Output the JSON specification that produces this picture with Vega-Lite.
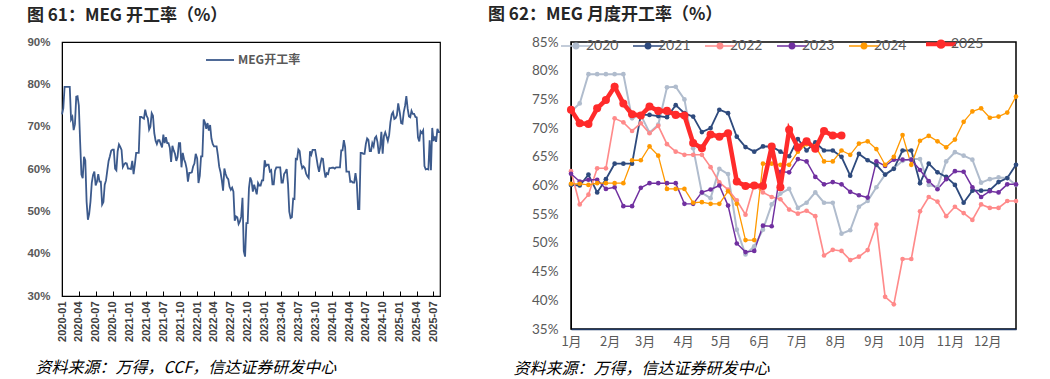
{
  "$schema": "https://vega.github.io/schema/vega-lite/v6.json",
  "background": "white",
  "padding": {"left": 26, "top": 5, "right": 5, "bottom": 0},
  "config": {"font": "Liberation Sans", "view": {"stroke": "#000"}},
  "data": {"values": [
    {"yr":"2020","w":0,"d":"2020-01-01","v":72.9},{"yr":"2020","w":1,"d":"2020-01-08","v":74.3},{"yr":"2020","w":2,"d":"2020-01-15","v":79.4},{"yr":"2020","w":3,"d":"2020-01-22","v":79.4},{"yr":"2020","w":4,"d":"2020-01-29","v":79.4},{"yr":"2020","w":5,"d":"2020-02-05","v":79.4},{"yr":"2020","w":6,"d":"2020-02-12","v":79.4},{"yr":"2020","w":7,"d":"2020-02-19","v":71.7},{"yr":"2020","w":8,"d":"2020-02-26","v":72.3},{"yr":"2020","w":9,"d":"2020-03-04","v":69.2},{"yr":"2020","w":10,"d":"2020-03-11","v":70.6},{"yr":"2020","w":11,"d":"2020-03-18","v":77.1},{"yr":"2020","w":12,"d":"2020-03-25","v":77.2},{"yr":"2020","w":13,"d":"2020-04-01","v":75.0},{"yr":"2020","w":14,"d":"2020-04-08","v":66.5},{"yr":"2020","w":15,"d":"2020-04-15","v":58.7},{"yr":"2020","w":16,"d":"2020-04-22","v":57.8},{"yr":"2020","w":17,"d":"2020-04-29","v":62.9},{"yr":"2020","w":18,"d":"2020-05-06","v":62.0},{"yr":"2020","w":19,"d":"2020-05-13","v":52.3},{"yr":"2020","w":20,"d":"2020-05-20","v":48.0},{"yr":"2020","w":21,"d":"2020-05-27","v":49.4},{"yr":"2020","w":22,"d":"2020-06-03","v":52.3},{"yr":"2020","w":23,"d":"2020-06-10","v":56.7},{"yr":"2020","w":24,"d":"2020-06-17","v":58.6},{"yr":"2020","w":25,"d":"2020-06-24","v":59.4},{"yr":"2020","w":26,"d":"2020-07-01","v":56.1},{"yr":"2020","w":27,"d":"2020-07-08","v":57.0},{"yr":"2020","w":28,"d":"2020-07-15","v":58.8},{"yr":"2020","w":29,"d":"2020-07-22","v":57.0},{"yr":"2020","w":30,"d":"2020-07-29","v":57.0},{"yr":"2020","w":31,"d":"2020-08-05","v":51.6},{"yr":"2020","w":32,"d":"2020-08-12","v":52.2},{"yr":"2020","w":33,"d":"2020-08-19","v":56.3},{"yr":"2020","w":34,"d":"2020-08-26","v":57.3},{"yr":"2020","w":35,"d":"2020-09-02","v":59.7},{"yr":"2020","w":36,"d":"2020-09-09","v":61.9},{"yr":"2020","w":37,"d":"2020-09-16","v":63.0},{"yr":"2020","w":38,"d":"2020-09-23","v":64.3},{"yr":"2020","w":39,"d":"2020-09-30","v":64.6},{"yr":"2020","w":40,"d":"2020-10-07","v":64.6},{"yr":"2020","w":41,"d":"2020-10-14","v":60.1},{"yr":"2020","w":42,"d":"2020-10-21","v":59.7},{"yr":"2020","w":43,"d":"2020-10-28","v":64.2},{"yr":"2020","w":44,"d":"2020-11-04","v":65.8},{"yr":"2020","w":45,"d":"2020-11-11","v":65.2},{"yr":"2020","w":46,"d":"2020-11-18","v":64.5},{"yr":"2020","w":47,"d":"2020-11-25","v":60.5},{"yr":"2020","w":48,"d":"2020-12-02","v":61.1},{"yr":"2020","w":49,"d":"2020-12-09","v":61.4},{"yr":"2020","w":50,"d":"2020-12-16","v":61.3},{"yr":"2020","w":51,"d":"2020-12-23","v":60.1},
    {"yr":"2021","w":0,"d":"2021-01-01","v":60.1},{"yr":"2021","w":1,"d":"2021-01-08","v":60.0},{"yr":"2021","w":2,"d":"2021-01-15","v":61.9},{"yr":"2021","w":3,"d":"2021-01-22","v":58.8},{"yr":"2021","w":4,"d":"2021-01-29","v":61.1},{"yr":"2021","w":5,"d":"2021-02-05","v":63.8},{"yr":"2021","w":6,"d":"2021-02-12","v":63.8},{"yr":"2021","w":7,"d":"2021-02-19","v":63.8},{"yr":"2021","w":8,"d":"2021-02-26","v":72.3},{"yr":"2021","w":9,"d":"2021-03-05","v":72.3},{"yr":"2021","w":10,"d":"2021-03-12","v":72.1},{"yr":"2021","w":11,"d":"2021-03-19","v":71.9},{"yr":"2021","w":12,"d":"2021-03-26","v":74.0},{"yr":"2021","w":13,"d":"2021-04-02","v":72.6},{"yr":"2021","w":14,"d":"2021-04-09","v":72.0},{"yr":"2021","w":15,"d":"2021-04-16","v":69.3},{"yr":"2021","w":16,"d":"2021-04-23","v":70.0},{"yr":"2021","w":17,"d":"2021-04-30","v":73.2},{"yr":"2021","w":18,"d":"2021-05-07","v":72.6},{"yr":"2021","w":19,"d":"2021-05-14","v":68.5},{"yr":"2021","w":20,"d":"2021-05-21","v":66.7},{"yr":"2021","w":21,"d":"2021-05-28","v":65.9},{"yr":"2021","w":22,"d":"2021-06-04","v":66.8},{"yr":"2021","w":23,"d":"2021-06-11","v":66.8},{"yr":"2021","w":24,"d":"2021-06-18","v":65.9},{"yr":"2021","w":25,"d":"2021-06-25","v":65.1},{"yr":"2021","w":26,"d":"2021-07-02","v":68.1},{"yr":"2021","w":27,"d":"2021-07-09","v":66.1},{"yr":"2021","w":28,"d":"2021-07-16","v":67.5},{"yr":"2021","w":29,"d":"2021-07-23","v":66.1},{"yr":"2021","w":30,"d":"2021-07-30","v":66.1},{"yr":"2021","w":31,"d":"2021-08-06","v":65.0},{"yr":"2021","w":32,"d":"2021-08-13","v":61.7},{"yr":"2021","w":33,"d":"2021-08-20","v":65.5},{"yr":"2021","w":34,"d":"2021-08-27","v":64.4},{"yr":"2021","w":35,"d":"2021-09-03","v":63.6},{"yr":"2021","w":36,"d":"2021-09-10","v":61.9},{"yr":"2021","w":37,"d":"2021-09-17","v":62.9},{"yr":"2021","w":38,"d":"2021-09-24","v":66.1},{"yr":"2021","w":39,"d":"2021-10-01","v":66.1},{"yr":"2021","w":40,"d":"2021-10-08","v":60.4},{"yr":"2021","w":41,"d":"2021-10-15","v":63.8},{"yr":"2021","w":42,"d":"2021-10-22","v":62.3},{"yr":"2021","w":43,"d":"2021-10-29","v":61.5},{"yr":"2021","w":44,"d":"2021-11-05","v":60.1},{"yr":"2021","w":45,"d":"2021-11-12","v":57.0},{"yr":"2021","w":46,"d":"2021-11-19","v":59.1},{"yr":"2021","w":47,"d":"2021-11-26","v":59.1},{"yr":"2021","w":48,"d":"2021-12-03","v":59.2},{"yr":"2021","w":49,"d":"2021-12-10","v":60.6},{"yr":"2021","w":50,"d":"2021-12-17","v":61.3},{"yr":"2021","w":51,"d":"2021-12-24","v":63.6},
    {"yr":"2022","w":0,"d":"2022-01-01","v":62.5},{"yr":"2022","w":1,"d":"2022-01-08","v":56.7},{"yr":"2022","w":2,"d":"2022-01-15","v":58.4},{"yr":"2022","w":3,"d":"2022-01-22","v":63.0},{"yr":"2022","w":4,"d":"2022-01-29","v":63.0},{"yr":"2022","w":5,"d":"2022-02-05","v":71.7},{"yr":"2022","w":6,"d":"2022-02-12","v":71.0},{"yr":"2022","w":7,"d":"2022-02-19","v":69.5},{"yr":"2022","w":8,"d":"2022-02-26","v":70.85},{"yr":"2022","w":9,"d":"2022-03-05","v":69.1},{"yr":"2022","w":10,"d":"2022-03-12","v":70.4},{"yr":"2022","w":11,"d":"2022-03-19","v":67.2},{"yr":"2022","w":12,"d":"2022-03-26","v":65.9},{"yr":"2022","w":13,"d":"2022-04-02","v":65.35},{"yr":"2022","w":14,"d":"2022-04-09","v":65.35},{"yr":"2022","w":15,"d":"2022-04-16","v":65.35},{"yr":"2022","w":16,"d":"2022-04-23","v":63.2},{"yr":"2022","w":17,"d":"2022-04-30","v":60.55},{"yr":"2022","w":18,"d":"2022-05-07","v":59.3},{"yr":"2022","w":19,"d":"2022-05-14","v":57.4},{"yr":"2022","w":20,"d":"2022-05-21","v":54.9},{"yr":"2022","w":21,"d":"2022-05-28","v":60.1},{"yr":"2022","w":22,"d":"2022-06-04","v":58.8},{"yr":"2022","w":23,"d":"2022-06-11","v":58.0},{"yr":"2022","w":24,"d":"2022-06-18","v":57.6},{"yr":"2022","w":25,"d":"2022-06-25","v":55.8},{"yr":"2022","w":26,"d":"2022-07-02","v":55.1},{"yr":"2022","w":27,"d":"2022-07-09","v":55.6},{"yr":"2022","w":28,"d":"2022-07-16","v":54.65},{"yr":"2022","w":29,"d":"2022-07-23","v":47.8},{"yr":"2022","w":30,"d":"2022-07-30","v":48.8},{"yr":"2022","w":31,"d":"2022-08-06","v":48.6},{"yr":"2022","w":32,"d":"2022-08-13","v":47.0},{"yr":"2022","w":33,"d":"2022-08-20","v":47.6},{"yr":"2022","w":34,"d":"2022-08-27","v":48.75},{"yr":"2022","w":35,"d":"2022-09-03","v":53.2},{"yr":"2022","w":36,"d":"2022-09-10","v":40.6},{"yr":"2022","w":37,"d":"2022-09-17","v":39.3},{"yr":"2022","w":38,"d":"2022-09-24","v":47.2},{"yr":"2022","w":39,"d":"2022-10-01","v":47.2},{"yr":"2022","w":40,"d":"2022-10-08","v":55.5},{"yr":"2022","w":41,"d":"2022-10-15","v":58.0},{"yr":"2022","w":42,"d":"2022-10-22","v":57.2},{"yr":"2022","w":43,"d":"2022-10-29","v":54.65},{"yr":"2022","w":44,"d":"2022-11-05","v":56.3},{"yr":"2022","w":45,"d":"2022-11-12","v":55.2},{"yr":"2022","w":46,"d":"2022-11-19","v":54.0},{"yr":"2022","w":47,"d":"2022-11-26","v":56.7},{"yr":"2022","w":48,"d":"2022-12-03","v":56.1},{"yr":"2022","w":49,"d":"2022-12-10","v":56.1},{"yr":"2022","w":50,"d":"2022-12-17","v":57.3},{"yr":"2022","w":51,"d":"2022-12-24","v":57.3},
    {"yr":"2023","w":0,"d":"2023-01-01","v":62.05},{"yr":"2023","w":1,"d":"2023-01-08","v":60.7},{"yr":"2023","w":2,"d":"2023-01-15","v":61.0},{"yr":"2023","w":3,"d":"2023-01-22","v":61.0},{"yr":"2023","w":4,"d":"2023-01-29","v":59.4},{"yr":"2023","w":5,"d":"2023-02-05","v":59.7},{"yr":"2023","w":6,"d":"2023-02-12","v":56.4},{"yr":"2023","w":7,"d":"2023-02-19","v":56.4},{"yr":"2023","w":8,"d":"2023-02-26","v":59.6},{"yr":"2023","w":9,"d":"2023-03-05","v":60.4},{"yr":"2023","w":10,"d":"2023-03-12","v":60.4},{"yr":"2023","w":11,"d":"2023-03-19","v":60.4},{"yr":"2023","w":12,"d":"2023-03-26","v":60.4},{"yr":"2023","w":13,"d":"2023-04-02","v":56.8},{"yr":"2023","w":14,"d":"2023-04-09","v":56.8},{"yr":"2023","w":15,"d":"2023-04-16","v":58.8},{"yr":"2023","w":16,"d":"2023-04-23","v":59.3},{"yr":"2023","w":17,"d":"2023-04-30","v":60.0},{"yr":"2023","w":18,"d":"2023-05-07","v":56.5},{"yr":"2023","w":19,"d":"2023-05-14","v":49.9},{"yr":"2023","w":20,"d":"2023-05-21","v":48.4},{"yr":"2023","w":21,"d":"2023-05-28","v":48.6},{"yr":"2023","w":22,"d":"2023-06-04","v":53.0},{"yr":"2023","w":23,"d":"2023-06-11","v":52.9},{"yr":"2023","w":24,"d":"2023-06-18","v":62.4},{"yr":"2023","w":25,"d":"2023-06-25","v":62.3},{"yr":"2023","w":26,"d":"2023-07-02","v":64.6},{"yr":"2023","w":27,"d":"2023-07-09","v":64.2},{"yr":"2023","w":28,"d":"2023-07-16","v":61.5},{"yr":"2023","w":29,"d":"2023-07-23","v":60.2},{"yr":"2023","w":30,"d":"2023-07-30","v":60.6},{"yr":"2023","w":31,"d":"2023-08-06","v":60.2},{"yr":"2023","w":32,"d":"2023-08-13","v":58.9},{"yr":"2023","w":33,"d":"2023-08-20","v":58.3},{"yr":"2023","w":34,"d":"2023-08-27","v":57.9},{"yr":"2023","w":35,"d":"2023-09-03","v":64.2},{"yr":"2023","w":36,"d":"2023-09-10","v":63.4},{"yr":"2023","w":37,"d":"2023-09-17","v":64.5},{"yr":"2023","w":38,"d":"2023-09-24","v":64.5},{"yr":"2023","w":39,"d":"2023-10-01","v":64.5},{"yr":"2023","w":40,"d":"2023-10-08","v":62.7},{"yr":"2023","w":41,"d":"2023-10-15","v":60.75},{"yr":"2023","w":42,"d":"2023-10-22","v":59.35},{"yr":"2023","w":43,"d":"2023-10-29","v":61.1},{"yr":"2023","w":44,"d":"2023-11-05","v":62.5},{"yr":"2023","w":45,"d":"2023-11-12","v":62.4},{"yr":"2023","w":46,"d":"2023-11-19","v":59.7},{"yr":"2023","w":47,"d":"2023-11-26","v":58.0},{"yr":"2023","w":48,"d":"2023-12-03","v":59.0},{"yr":"2023","w":49,"d":"2023-12-10","v":58.8},{"yr":"2023","w":50,"d":"2023-12-17","v":60.2},{"yr":"2023","w":51,"d":"2023-12-24","v":60.2},
    {"yr":"2024","w":0,"d":"2024-01-01","v":60.3},{"yr":"2024","w":1,"d":"2024-01-08","v":60.3},{"yr":"2024","w":2,"d":"2024-01-15","v":60.1},{"yr":"2024","w":3,"d":"2024-01-22","v":60.4},{"yr":"2024","w":4,"d":"2024-01-29","v":60.4},{"yr":"2024","w":5,"d":"2024-02-05","v":60.4},{"yr":"2024","w":6,"d":"2024-02-12","v":60.4},{"yr":"2024","w":7,"d":"2024-02-19","v":64.4},{"yr":"2024","w":8,"d":"2024-02-26","v":64.4},{"yr":"2024","w":9,"d":"2024-03-04","v":66.8},{"yr":"2024","w":10,"d":"2024-03-11","v":65.2},{"yr":"2024","w":11,"d":"2024-03-18","v":59.4},{"yr":"2024","w":12,"d":"2024-03-25","v":59.4},{"yr":"2024","w":13,"d":"2024-04-01","v":59.4},{"yr":"2024","w":14,"d":"2024-04-08","v":57.0},{"yr":"2024","w":15,"d":"2024-04-15","v":57.1},{"yr":"2024","w":16,"d":"2024-04-22","v":56.8},{"yr":"2024","w":17,"d":"2024-04-29","v":56.8},{"yr":"2024","w":18,"d":"2024-05-06","v":59.0},{"yr":"2024","w":19,"d":"2024-05-13","v":56.8},{"yr":"2024","w":20,"d":"2024-05-20","v":50.5},{"yr":"2024","w":21,"d":"2024-05-27","v":50.5},{"yr":"2024","w":22,"d":"2024-06-03","v":63.8},{"yr":"2024","w":23,"d":"2024-06-10","v":63.8},{"yr":"2024","w":24,"d":"2024-06-17","v":63.6},{"yr":"2024","w":25,"d":"2024-06-24","v":63.6},{"yr":"2024","w":26,"d":"2024-07-01","v":65.9},{"yr":"2024","w":27,"d":"2024-07-08","v":67.2},{"yr":"2024","w":28,"d":"2024-07-15","v":66.85},{"yr":"2024","w":29,"d":"2024-07-22","v":64.2},{"yr":"2024","w":30,"d":"2024-07-29","v":64.2},{"yr":"2024","w":31,"d":"2024-08-05","v":66.1},{"yr":"2024","w":32,"d":"2024-08-12","v":65.35},{"yr":"2024","w":33,"d":"2024-08-19","v":67.3},{"yr":"2024","w":34,"d":"2024-08-26","v":67.7},{"yr":"2024","w":35,"d":"2024-09-02","v":66.35},{"yr":"2024","w":36,"d":"2024-09-09","v":63.6},{"yr":"2024","w":37,"d":"2024-09-16","v":65.0},{"yr":"2024","w":38,"d":"2024-09-23","v":68.8},{"yr":"2024","w":39,"d":"2024-09-30","v":63.6},{"yr":"2024","w":40,"d":"2024-10-07","v":67.8},{"yr":"2024","w":41,"d":"2024-10-14","v":68.65},{"yr":"2024","w":42,"d":"2024-10-21","v":67.7},{"yr":"2024","w":43,"d":"2024-10-28","v":66.65},{"yr":"2024","w":44,"d":"2024-11-04","v":68.0},{"yr":"2024","w":45,"d":"2024-11-11","v":71.1},{"yr":"2024","w":46,"d":"2024-11-18","v":72.9},{"yr":"2024","w":47,"d":"2024-11-25","v":73.45},{"yr":"2024","w":48,"d":"2024-12-02","v":71.8},{"yr":"2024","w":49,"d":"2024-12-09","v":72.0},{"yr":"2024","w":50,"d":"2024-12-16","v":72.7},{"yr":"2024","w":51,"d":"2024-12-23","v":75.5},
    {"yr":"2025","w":0,"d":"2025-01-01","v":73.2},{"yr":"2025","w":1,"d":"2025-01-08","v":70.85},{"yr":"2025","w":2,"d":"2025-01-15","v":70.7},{"yr":"2025","w":3,"d":"2025-01-22","v":73.45},{"yr":"2025","w":4,"d":"2025-01-29","v":74.9},{"yr":"2025","w":5,"d":"2025-02-05","v":77.2},{"yr":"2025","w":6,"d":"2025-02-12","v":74.3},{"yr":"2025","w":7,"d":"2025-02-19","v":72.4},{"yr":"2025","w":8,"d":"2025-02-26","v":72.2},{"yr":"2025","w":9,"d":"2025-03-05","v":73.75},{"yr":"2025","w":10,"d":"2025-03-12","v":73.0},{"yr":"2025","w":11,"d":"2025-03-19","v":73.0},{"yr":"2025","w":12,"d":"2025-03-26","v":72.3},{"yr":"2025","w":13,"d":"2025-04-02","v":72.2},{"yr":"2025","w":14,"d":"2025-04-09","v":67.4},{"yr":"2025","w":15,"d":"2025-04-16","v":66.5},{"yr":"2025","w":16,"d":"2025-04-23","v":68.9},{"yr":"2025","w":17,"d":"2025-04-30","v":68.5},{"yr":"2025","w":18,"d":"2025-05-07","v":69.1},{"yr":"2025","w":19,"d":"2025-05-14","v":60.7},{"yr":"2025","w":20,"d":"2025-05-21","v":59.9},{"yr":"2025","w":21,"d":"2025-05-28","v":60.0},{"yr":"2025","w":22,"d":"2025-06-04","v":59.9},{"yr":"2025","w":23,"d":"2025-06-11","v":66.8},{"yr":"2025","w":24,"d":"2025-06-18","v":59.7},{"yr":"2025","w":25,"d":"2025-06-25","v":69.7},{"yr":"2025","w":26,"d":"2025-07-02","v":66.6},{"yr":"2025","w":27,"d":"2025-07-09","v":67.7},{"yr":"2025","w":28,"d":"2025-07-16","v":66.4},{"yr":"2025","w":29,"d":"2025-07-23","v":69.5},{"yr":"2025","w":30,"d":"2025-07-30","v":68.7},{"yr":"2025","w":31,"d":"2025-08-06","v":68.7}
  ]},
  "spacing": 42,
  "resolve": {"scale": {"x": "independent", "y": "independent", "color": "independent"}, "legend": {"color": "independent"}},
  "hconcat": [
    {
      "width": 378,
      "height": 254,
      "title": {"text": "图 61：MEG 开工率（%）", "anchor": "start", "frame": "bounds", "font": "Noto Sans CJK SC", "fontSize": 17, "fontWeight": "bold", "color": "#262626", "offset": 11, "dx": 0},
      "view": {"stroke": "#000", "strokeWidth": 1.2},
      "mark": {"type": "line", "strokeWidth": 1.8},
      "encoding": {
        "x": {"field": "d", "type": "temporal", "scale": {"type": "utc", "domain": ["2020-01-01", "2025-08-06"]},
          "axis": {"title": "资料来源：万得，CCF，信达证券研发中心", "format": "%Y-%m", "tickCount": {"interval": "month", "step": 3}, "labelAngle": 270, "labelAlign": "right", "labelBaseline": "middle", "labelFont": "Liberation Sans", "labelFontSize": 11, "labelFontWeight": "bold", "labelColor": "#404040", "labelPadding": 10, "labelOverlap": false, "labelFlush": false, "tickSize": -5, "tickColor": "#000", "domainColor": "#000", "grid": false,
            "titleFont": "Noto Sans CJK SC", "titleFontSize": 16, "titleFontStyle": "italic", "titleFontWeight": "normal", "titleColor": "#000", "titleAnchor": "start", "titleAlign": "left", "titleBaseline": "middle", "titleX": -27, "titleY": 71}},
        "y": {"field": "v", "type": "quantitative", "scale": {"domain": [30, 90], "nice": false},
          "axis": {"title": null, "values": [30, 40, 50, 60, 70, 80, 90], "labelExpr": "datum.value + '%'", "labelFont": "Liberation Sans", "labelFontSize": 11.5, "labelFontWeight": "bold", "labelColor": "#595959", "ticks": false, "grid": false, "domainColor": "#000", "labelPadding": 12}},
        "color": {"datum": "MEG开工率", "scale": {"range": ["#3c5a8c"]},
          "legend": {"title": null, "orient": "none", "legendX": 143, "legendY": 3, "padding": 0, "symbolType": "stroke", "symbolSize": 784, "symbolStrokeWidth": 1.8, "labelFont": "Noto Sans CJK SC", "labelFontSize": 12, "labelFontWeight": "bold", "labelColor": "#595959", "labelOffset": 3}}
      }
    },
    {
      "width": 445,
      "height": 287,
      "title": {"text": "图 62：MEG 月度开工率（%）", "anchor": "start", "frame": "bounds", "font": "Noto Sans CJK SC", "fontSize": 17, "fontWeight": "bold", "color": "#262626", "offset": 11, "dx": -25},
      "view": {"stroke": "#000", "strokeWidth": 1.5},
      "encoding": {
        "x": {"field": "w", "type": "quantitative", "scale": {"domain": [0, 51], "nice": false},
          "axis": {"title": "资料来源：万得，信达证券研发中心", "values": [0, 4.43, 8.43, 12.86, 17.14, 21.57, 25.86, 30.29, 34.71, 39, 43.43, 47.71], "labelExpr": "(round(datum.value / 4.345) + 1) + '月'", "labelFont": "Noto Sans CJK SC", "labelFontSize": 13, "labelColor": "#595959", "labelPadding": 6, "labelOverlap": false, "labelFlush": false, "ticks": false, "grid": false, "domainColor": "#1f3864", "domainWidth": 1.5,
            "titleFont": "Noto Sans CJK SC", "titleFontSize": 16, "titleFontStyle": "italic", "titleFontWeight": "normal", "titleColor": "#000", "titleAnchor": "start", "titleAlign": "left", "titleBaseline": "middle", "titleX": -58, "titleY": 39}},
        "y": {"field": "v", "type": "quantitative", "scale": {"domain": [35, 85], "nice": false},
          "axis": {"title": null, "values": [35, 40, 45, 50, 55, 60, 65, 70, 75, 80, 85], "labelExpr": "datum.value + '%'", "labelFont": "Lato", "labelFontSize": 13.5, "labelColor": "#595959", "ticks": false, "grid": false, "domainColor": "#000", "labelPadding": 13}},
        "color": {"field": "yr", "type": "nominal",
          "scale": {"domain": ["2020", "2021", "2022", "2023", "2024", "2025"], "range": ["#b0bccd", "#2e4a7d", "#ff8a8a", "#7030a0", "#ff9900", "#ff2b2b"]},
          "legend": {"title": null, "orient": "none", "legendX": -2, "legendY": -5, "padding": 0, "direction": "horizontal", "columns": 6, "columnPadding": 11,
            "symbolType": "M-1,0L1,0M-0.18,0A0.18,0.18,0,1,1,0.18,0A0.18,0.18,0,1,1,-0.18,0", "symbolSize": 900, "symbolStrokeWidth": 1.5,
            "labelFont": "Lato", "labelFontSize": 14, "labelColor": "#595959", "labelOffset": 3,
            "encode": {"symbols": {"update": {
              "fill": {"signal": "datum.value === '2020' ? '#b0bccd' : datum.value === '2021' ? '#2e4a7d' : datum.value === '2022' ? '#ff8a8a' : datum.value === '2023' ? '#7030a0' : datum.value === '2024' ? '#ff9900' : '#ff2b2b'"},
              "strokeWidth": {"signal": "datum.value === '2025' ? 4 : 1.5"}}}}}}
      },
      "layer": [
        {"transform": [{"filter": "datum.yr !== '2025'"}], "mark": {"type": "line"},
          "encoding": {"strokeWidth": {"field": "yr", "type": "ordinal", "scale": {"domain": ["2020", "2021", "2022", "2023", "2024"], "range": [2, 1.3, 1, 2, 2]}, "legend": null}}},
        {"transform": [{"filter": "datum.yr !== '2025'"}], "mark": {"type": "point", "filled": true, "opacity": 1, "size": 22}},
        {"transform": [{"filter": "datum.yr === '2025'"}], "mark": {"type": "line", "strokeWidth": 4.5}},
        {"transform": [{"filter": "datum.yr === '2025'"}], "mark": {"type": "point", "filled": true, "opacity": 1, "size": 65}}
      ]
    }
  ]
}
